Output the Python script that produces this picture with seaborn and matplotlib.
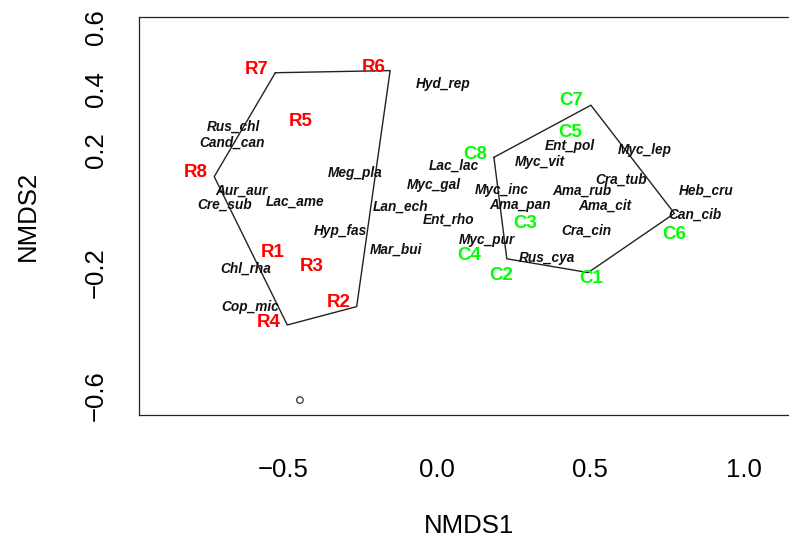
import matplotlib
matplotlib.use("Agg")
import matplotlib.pyplot as plt
import matplotlib.transforms as mtransforms
import seaborn as sns
import pandas as pd

# ---- data ----
r_sites = ["R1", "R2", "R3", "R4", "R5", "R6", "R7", "R8"]
r_x = [-0.534, -0.317, -0.407, -0.546, -0.442, -0.204, -0.586, -0.785]
r_y = [-0.161, -0.325, -0.207, -0.390, 0.266, 0.444, 0.437, 0.100]

c_sites = ["C1", "C2", "C3", "C4", "C5", "C6", "C7", "C8"]
c_x = [0.505, 0.212, 0.288, 0.107, 0.435, 0.775, 0.440, 0.125]
c_y = [-0.245, -0.234, -0.065, -0.169, 0.230, -0.102, 0.334, 0.160]

hull_r_x = [-0.525, -0.151, -0.260, -0.486, -0.724]
hull_r_y = [0.426, 0.433, -0.337, -0.397, 0.087]

hull_c_x = [0.187, 0.503, 0.775, 0.494, 0.229]
hull_c_y = [0.150, 0.320, -0.033, -0.226, -0.181]

species = ["Hyd_rep", "Rus_chl", "Cand_can", "Meg_pla", "Aur_aur", "Cre_sub",
           "Lac_ame", "Lan_ech", "Hyp_fas", "Mar_bui", "Chl_rha", "Cop_mic",
           "Lac_lac", "Myc_gal", "Ent_rho", "Myc_pur", "Myc_inc", "Ama_pan",
           "Myc_vit", "Ent_pol", "Ama_rub", "Cra_cin", "Rus_cya", "Myc_lep",
           "Cra_tub", "Heb_cru", "Ama_cit", "Can_cib"]
sp_x = [0.022, -0.660, -0.667, -0.265, -0.635, -0.689,
        -0.461, -0.116, -0.312, -0.132, -0.621, -0.607,
        0.057, -0.010, 0.038, 0.165, 0.212, 0.272,
        0.337, 0.435, 0.473, 0.489, 0.359, 0.679,
        0.601, 0.878, 0.549, 0.842]
sp_y = [0.388, 0.250, 0.198, 0.100, 0.040, -0.006,
        0.005, -0.012, -0.090, -0.152, -0.212, -0.337,
        0.122, 0.060, -0.054, -0.120, 0.043, -0.006,
        0.136, 0.188, 0.041, -0.090, -0.179, 0.174,
        0.078, 0.041, -0.008, -0.038]

point_x = [-0.445]
point_y = [-0.642]

x_ticks = [-0.5, 0.0, 0.5, 1.0]
x_ticklabels = ["\u22120.5", "0.0", "0.5", "1.0"]
y_ticks = [-0.6, -0.4, -0.2, 0.0, 0.2, 0.4, 0.6]
y_ticklabels = ["\u22120.6", "", "\u22120.2", "", "0.2", "0.4", "0.6"]

# ---- figure ----
sns.set_style("white")
plt.rcParams["font.family"] = ["Liberation Sans", "DejaVu Sans"]

W, H = 789, 546
fig = plt.figure(figsize=(W / 100, H / 100), dpi=100)
left_px, right_px, top_px, bottom_px = 138.7, 800.0, 16.7, 414.7
ax = fig.add_axes([left_px / W, 1 - bottom_px / H,
                   (right_px - left_px) / W, (bottom_px - top_px) / H])

x0_px, xs = 436.5, 307.0
y0_px, ys = 203.3, 306.5
ax.set_xlim((left_px - x0_px) / xs, (right_px - x0_px) / xs)
ax.set_ylim((y0_px - bottom_px) / ys, (y0_px - top_px) / ys)

line_col = "#222222"
hr = pd.DataFrame({"x": hull_r_x + hull_r_x[:1], "y": hull_r_y + hull_r_y[:1]})
hc = pd.DataFrame({"x": hull_c_x + hull_c_x[:1], "y": hull_c_y + hull_c_y[:1]})
sns.lineplot(data=hr, x="x", y="y", sort=False, estimator=None,
             color=line_col, lw=1.0, ax=ax)
sns.lineplot(data=hc, x="x", y="y", sort=False, estimator=None,
             color=line_col, lw=1.0, ax=ax)

sns.scatterplot(x=point_x, y=point_y, s=22, facecolors="none",
                edgecolors="#333333", linewidths=0.9, ax=ax)

for name, x, y in zip(species, sp_x, sp_y):
    ax.text(x, y, name, ha="center", va="center", fontsize=9.8,
            fontweight="bold", fontstyle="italic", color="#111111")
for name, x, y in zip(r_sites, r_x, r_y):
    ax.text(x, y, name, ha="center", va="center", fontsize=13.5,
            fontweight="bold", color="#ff0000")
for name, x, y in zip(c_sites, c_x, c_y):
    ax.text(x, y, name, ha="center", va="center", fontsize=13.5,
            fontweight="bold", color="#00ff00")

ax.set_xticks(x_ticks)
ax.set_xticklabels(x_ticklabels)
ax.set_yticks(y_ticks)
ax.set_yticklabels(y_ticklabels)
ax.tick_params(axis="both", direction="out", length=12, width=0.9,
               color="#222222", labelsize=18.5, labelcolor="black")
ax.tick_params(axis="x", pad=19)
ax.tick_params(axis="y", pad=10, labelrotation=90)
shift = mtransforms.ScaledTranslation(0, -8 / 100, fig.dpi_scale_trans)
for lab in ax.get_yticklabels():
    lab.set_va("center")
    lab.set_ha("right")
    lab.set_transform(lab.get_transform() + shift)

for sp in ax.spines.values():
    sp.set_color("#222222")
    sp.set_linewidth(0.9)

ax.set_xlabel("NMDS1", fontsize=18.5, va="center", color="black")
ax.set_ylabel("NMDS2", fontsize=18.5, va="center", color="black")
ax.xaxis.set_label_coords((469.4 - left_px) / (right_px - left_px),
                          (bottom_px - 526) / (bottom_px - top_px))
ax.yaxis.set_label_coords((28 - left_px) / (right_px - left_px), 0.5)

fig.savefig("out.png", dpi=100, facecolor="white")
